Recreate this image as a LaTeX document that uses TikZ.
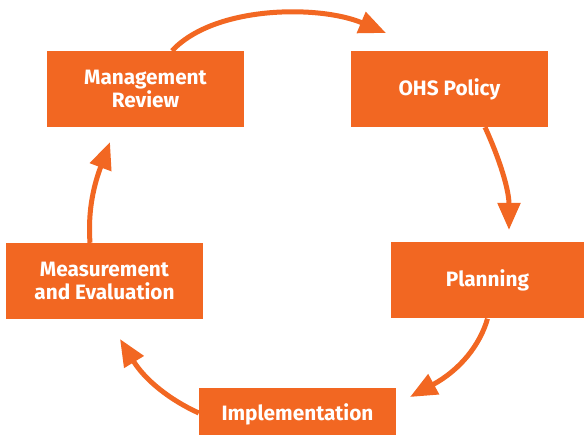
\documentclass[tikz,border=0pt]{standalone}
\usepackage{fontspec}
\setmainfont{Fira Sans}
\usetikzlibrary{arrows.meta}
\definecolor{ohsorange}{RGB}{242,103,34}
\begin{document}
\begin{tikzpicture}[x=1pt,y=-1pt,
   stage/.style={fill=ohsorange,text=white,font=\bfseries\fontsize{20.8}{23}\selectfont,
      align=center,minimum width=197pt,minimum height=76pt,inner sep=0pt},
   cycle/.style={draw=ohsorange,line width=5pt,-{Triangle[length=27pt,width=22pt]}}]
\clip (0,0) rectangle (584,435);
\node[stage] (MR) at (145.5,89) {Management\\Review};
\node[stage] (OP) at (449.5,89) {OHS Policy};
\node[stage,minimum width=193pt] (PL) at (487.5,280.5) {Planning};
\node[stage,minimum height=52pt] (IM) at (297.5,414) {Implementation};
\node[stage] (ME) at (104.5,281) {Measurement\\and Evaluation};
\coordinate (T1) at (386,33);
\coordinate (T2) at (509,230);
\coordinate (T3) at (410,397);
\coordinate (T4) at (120,339);
\coordinate (T5) at (110,142);
\draw[cycle] ([xshift=26.5pt]MR.north) .. controls (215,5) and (320,5) .. (T1);
\draw[cycle] ([xshift=35.5pt]OP.south) .. controls (500,160) and (509,190) .. (T2);
\draw[cycle] (PL.south) .. controls (480,345) and (460,370) .. (T3);
\draw[cycle] ([yshift=1pt]IM.west) .. controls (170,400) and (145,380) .. (T4);
\draw[cycle] ([xshift=-14.5pt]ME.north) .. controls (88,215) and (92,190) .. (T5);
\end{tikzpicture}
\end{document}
